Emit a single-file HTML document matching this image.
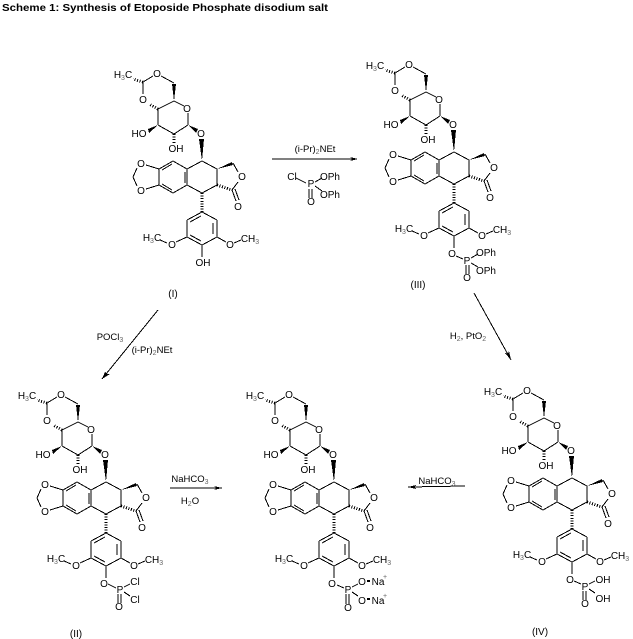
<!DOCTYPE html>
<html><head><meta charset="utf-8"><style>
html,body{margin:0;padding:0;background:#fff}
svg{display:block}
text{font-family:"Liberation Sans",sans-serif;font-size:10px;fill:#000;text-anchor:middle}
.s{font-size:7px;fill:#666}
.b line{stroke:#000;stroke-width:1}
.h line{stroke:#000;stroke-width:3;stroke-dasharray:1 1.6}
</style></head><body>
<svg xmlns="http://www.w3.org/2000/svg" width="633" height="639" viewBox="0 0 633 639" shape-rendering="crispEdges">
<defs>
<g id="m">
<g class="b">
<line x1="143" y1="82" x2="153" y2="76"/><line x1="161" y1="76" x2="174" y2="83"/><line x1="143" y1="82" x2="143" y2="94"/>
<line x1="158" y1="109" x2="174" y2="101"/><line x1="174" y1="101" x2="184" y2="106"/><line x1="188" y1="113" x2="188" y2="125"/>
<line x1="188" y1="125" x2="174" y2="134"/><line x1="174" y1="134" x2="158" y2="125"/><line x1="158" y1="125" x2="158" y2="109"/>
<line x1="202" y1="161" x2="217" y2="169"/><line x1="217" y1="169" x2="217" y2="185"/><line x1="217" y1="185" x2="202" y2="193"/>
<line x1="202" y1="193" x2="187" y2="185"/><line x1="187" y1="185" x2="187" y2="169"/><line x1="187" y1="169" x2="202" y2="161"/>
<line x1="185" y1="172" x2="185" y2="183"/><line x1="173" y1="161" x2="187" y2="169"/><line x1="173" y1="161" x2="159" y2="169"/>
<line x1="172" y1="164" x2="162" y2="170"/><line x1="159" y1="169" x2="159" y2="185"/><line x1="159" y1="185" x2="173" y2="193"/>
<line x1="162" y1="184" x2="172" y2="190"/><line x1="173" y1="193" x2="187" y2="185"/>
<line x1="146" y1="165" x2="159" y2="169"/><line x1="146" y1="189" x2="159" y2="185"/>
<line x1="133" y1="177" x2="137" y2="168"/><line x1="133" y1="177" x2="137" y2="186"/>
<line x1="233" y1="163" x2="238" y2="172"/><line x1="238" y1="182" x2="232" y2="190"/>
<line x1="232" y1="190" x2="236" y2="201"/><line x1="235" y1="189" x2="239" y2="200"/>
<line x1="202" y1="212" x2="217" y2="220"/><line x1="217" y1="220" x2="217" y2="237"/><line x1="217" y1="237" x2="202" y2="245"/>
<line x1="202" y1="245" x2="187" y2="237"/><line x1="187" y1="237" x2="187" y2="220"/><line x1="187" y1="220" x2="202" y2="212"/>
<line x1="213" y1="223" x2="213" y2="234"/><line x1="190" y1="222" x2="201" y2="216"/><line x1="190" y1="235" x2="201" y2="241"/>
<line x1="160" y1="240" x2="167" y2="243"/><line x1="176" y1="242" x2="187" y2="237"/><line x1="217" y1="237" x2="226" y2="242"/><line x1="234" y1="243" x2="241" y2="240"/>
<line x1="202" y1="245" x2="202" y2="257"/>
</g>
<g class="h">
<line x1="143" y1="82" x2="133" y2="79"/><line x1="158" y1="109" x2="149" y2="104"/><line x1="174" y1="134" x2="174" y2="144"/>
<line x1="217" y1="185" x2="232" y2="190"/><line x1="202" y1="193" x2="202" y2="212"/>
</g>
<polygon points="174,101 172,84 176,84"/>
<polygon points="158,125 148,129 149,133"/>
<polygon points="188,125 198,129 196,133"/>
<polygon points="202,161 199,139 204,139"/>
<polygon points="217,169 232,162 233,165"/>
</g>
</defs>

<text x="2" y="11" style="font-weight:bold;font-size:10.5px;text-anchor:start" textLength="326" lengthAdjust="spacingAndGlyphs">Scheme 1: Synthesis of Etoposide Phosphate disodium salt</text>

<!-- Molecule I -->
<use href="#m"/>
<g>
<text x="123" y="78">H<tspan class="s" dy="2">3</tspan><tspan dy="-2">C</tspan></text>
<text x="157" y="77">O</text><text x="143" y="103">O</text><text x="187" y="112">O</text>
<text x="139" y="137">HO</text><text x="176" y="152">OH</text><text x="201" y="137">O</text>
<text x="141" y="167">O</text><text x="141" y="194">O</text><text x="242" y="180">O</text><text x="238" y="210">O</text>
<text x="152" y="241">H<tspan class="s" dy="2">3</tspan><tspan dy="-2">C</tspan></text>
<text x="172" y="248">O</text><text x="230" y="248">O</text>
<text x="250" y="242">CH<tspan class="s" dy="2">3</tspan></text>
<text x="203" y="266">OH</text>
<text x="173" y="297">(I)</text>
</g>

<!-- Molecule III -->
<g transform="translate(252,-9)">
<use href="#m"/>
<text x="123" y="78">H<tspan class="s" dy="2">3</tspan><tspan dy="-2">C</tspan></text>
<text x="157" y="77">O</text><text x="143" y="103">O</text><text x="187" y="112">O</text>
<text x="139" y="137">HO</text><text x="176" y="152">OH</text><text x="201" y="137">O</text>
<text x="141" y="167">O</text><text x="141" y="194">O</text><text x="242" y="180">O</text><text x="238" y="210">O</text>
<text x="152" y="241">H<tspan class="s" dy="2">3</tspan><tspan dy="-2">C</tspan></text>
<text x="172" y="248">O</text><text x="230" y="248">O</text>
<text x="250" y="242">CH<tspan class="s" dy="2">3</tspan></text>
<text x="200" y="266">O</text>
</g>
<g class="b"><line x1="456" y1="256" x2="463" y2="259"/><line x1="471" y1="258" x2="478" y2="254"/><line x1="471" y1="263" x2="478" y2="267"/><line x1="466" y1="265" x2="466" y2="274"/><line x1="469" y1="265" x2="469" y2="274"/></g>
<text x="467" y="264">P</text><text x="486" y="256">OPh</text><text x="486" y="274">OPh</text><text x="467" y="281">O</text>
<text x="418" y="288">(III)</text>

<!-- Molecule II -->
<g transform="translate(-96,321)">
<use href="#m"/>
<text x="123" y="78">H<tspan class="s" dy="2">3</tspan><tspan dy="-2">C</tspan></text>
<text x="157" y="77">O</text><text x="143" y="103">O</text><text x="187" y="112">O</text>
<text x="139" y="137">HO</text><text x="176" y="152">OH</text><text x="201" y="137">O</text>
<text x="141" y="167">O</text><text x="141" y="194">O</text><text x="242" y="180">O</text><text x="238" y="210">O</text>
<text x="152" y="241">H<tspan class="s" dy="2">3</tspan><tspan dy="-2">C</tspan></text>
<text x="172" y="248">O</text><text x="230" y="248">O</text>
<text x="250" y="242">CH<tspan class="s" dy="2">3</tspan></text>
<text x="200" y="266">O</text>
</g>
<g class="b"><line x1="108" y1="584" x2="116" y2="588"/><line x1="124" y1="587" x2="130" y2="584"/><line x1="124" y1="592" x2="130" y2="596"/><line x1="118" y1="594" x2="118" y2="603"/><line x1="121" y1="594" x2="121" y2="603"/></g>
<text x="120" y="593">P</text><text x="135" y="585">Cl</text><text x="135" y="603">Cl</text><text x="119" y="610">O</text>
<text x="76" y="637">(II)</text>

<!-- Molecule V -->
<g transform="translate(132,321)">
<use href="#m"/>
<text x="123" y="78">H<tspan class="s" dy="2">3</tspan><tspan dy="-2">C</tspan></text>
<text x="157" y="77">O</text><text x="143" y="103">O</text><text x="187" y="112">O</text>
<text x="139" y="137">HO</text><text x="176" y="152">OH</text><text x="201" y="137">O</text>
<text x="141" y="167">O</text><text x="141" y="194">O</text><text x="242" y="180">O</text><text x="238" y="210">O</text>
<text x="152" y="241">H<tspan class="s" dy="2">3</tspan><tspan dy="-2">C</tspan></text>
<text x="172" y="248">O</text><text x="230" y="248">O</text>
<text x="250" y="242">CH<tspan class="s" dy="2">3</tspan></text>
<text x="200" y="266">O</text>
</g>
<g class="b"><line x1="337" y1="585" x2="344" y2="588"/><line x1="352" y1="587" x2="358" y2="584"/><line x1="352" y1="592" x2="358" y2="596"/><line x1="346" y1="594" x2="346" y2="604"/><line x1="349" y1="594" x2="349" y2="604"/></g>
<rect x="367" y="580" width="3" height="2"/><rect x="367" y="598" width="3" height="2"/>
<text x="348" y="593">P</text><text x="362" y="585">O</text><text x="362" y="604">O</text><text x="348" y="611">O</text>
<text x="378" y="585">Na</text><text x="378" y="604">Na</text><text class="s" x="385" y="579">+</text><text class="s" x="385" y="598">+</text>

<!-- Molecule IV -->
<g transform="translate(370,317)">
<use href="#m"/>
<text x="123" y="78">H<tspan class="s" dy="2">3</tspan><tspan dy="-2">C</tspan></text>
<text x="157" y="77">O</text><text x="143" y="103">O</text><text x="187" y="112">O</text>
<text x="139" y="137">HO</text><text x="176" y="152">OH</text><text x="201" y="137">O</text>
<text x="141" y="167">O</text><text x="141" y="194">O</text><text x="242" y="180">O</text><text x="238" y="210">O</text>
<text x="152" y="241">H<tspan class="s" dy="2">3</tspan><tspan dy="-2">C</tspan></text>
<text x="172" y="248">O</text><text x="230" y="248">O</text>
<text x="250" y="242">CH<tspan class="s" dy="2">3</tspan></text>
<text x="200" y="266">O</text>
</g>
<g class="b"><line x1="574" y1="581" x2="581" y2="584"/><line x1="589" y1="584" x2="595" y2="581"/><line x1="589" y1="589" x2="595" y2="593"/><line x1="583" y1="591" x2="583" y2="600"/><line x1="586" y1="591" x2="586" y2="600"/></g>
<text x="585" y="590">P</text><text x="603" y="583">OH</text><text x="603" y="602">OH</text><text x="585" y="607">O</text>
<text x="540" y="635">(IV)</text>

<!-- Arrows -->
<g class="b">
<line x1="272" y1="159" x2="357" y2="159"/>
<line x1="158" y1="310" x2="102" y2="379"/>
<line x1="474" y1="293" x2="511" y2="360"/>
<line x1="170" y1="488" x2="222" y2="488"/>
<line x1="465" y1="486" x2="408" y2="487"/>
<line x1="296" y1="178" x2="306" y2="183"/><line x1="315" y1="182" x2="322" y2="178"/><line x1="315" y1="186" x2="322" y2="191"/>
<line x1="309" y1="189" x2="309" y2="198"/><line x1="312" y1="189" x2="312" y2="198"/>
</g>
<polygon points="358,159 350,157 352,159 350,161"/>
<polygon points="102,379 105,372 107,374 110,374"/>
<polygon points="511,360 505,353 508,354 509,351"/>
<polygon points="222,488 214,486 216,488 214,490"/>
<polygon points="408,487 416,485 414,487 416,489"/>

<text x="315" y="152" style="font-size:9.5px">(i-Pr)<tspan class="s" dy="2">2</tspan><tspan dy="-2">NEt</tspan></text>
<text x="292" y="180">Cl</text><text x="311" y="187">P</text><text x="330" y="180">OPh</text><text x="330" y="198">OPh</text><text x="311" y="205">O</text>
<text x="110" y="340" style="font-size:9.5px">POCl<tspan class="s" dy="2">3</tspan></text>
<text x="152" y="353" style="font-size:9.5px">(i-Pr)<tspan class="s" dy="2">2</tspan><tspan dy="-2">NEt</tspan></text>
<text x="468" y="339" style="font-size:9.5px">H<tspan class="s" dy="2">2</tspan><tspan dy="-2">, PtO</tspan><tspan class="s" dy="2">2</tspan></text>
<text x="190" y="482" style="font-size:9.5px">NaHCO<tspan class="s" dy="2">3</tspan></text>
<text x="190" y="504" style="font-size:9.5px">H<tspan class="s" dy="2">2</tspan><tspan dy="-2">O</tspan></text>
<text x="437" y="484" style="font-size:9.5px">NaHCO<tspan class="s" dy="2">3</tspan></text>
</svg>
</body></html>
